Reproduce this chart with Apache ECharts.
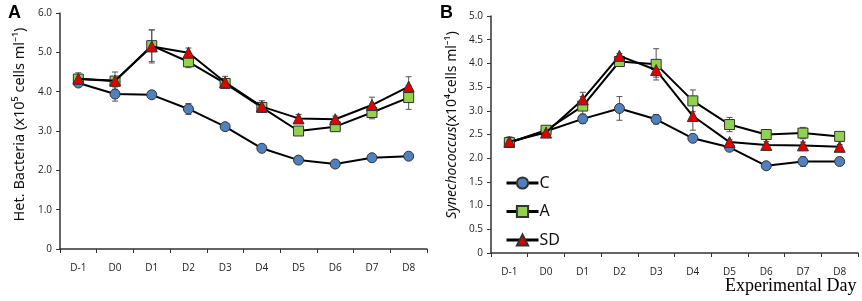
<!DOCTYPE html>
<html>
<head>
<meta charset="utf-8">
<script src="https://cdn.jsdelivr.net/npm/echarts@6/dist/echarts.min.js"></script>
<style>
  html, body { margin: 0; padding: 0; background: #fff; }
  #chart { width: 862px; height: 301px; }
</style>
</head>
<body>
<div id="chart"></div>
<script>
const days = ["D-1", "D0", "D1", "D2", "D3", "D4", "D5", "D6", "D7", "D8"];

// Panel A: heterotrophic bacteria (x10^5 cells/ml)
const bactC = [4.22, 3.94, 3.92, 3.56, 3.11, 2.56, 2.26, 2.16, 2.32, 2.36];
const bactA = [4.32, 4.27, 5.17, 4.76, 4.21, 3.6, 3.0, 3.11, 3.47, 3.85];
const bactSD = [4.33, 4.28, 5.15, 4.99, 4.24, 3.62, 3.32, 3.3, 3.66, 4.13];
const bactErrC = [0.06, 0.18, 0.04, 0.14, 0.04, 0.04, 0.04, 0.04, 0.04, 0.04];
const bactErrA = [0.12, 0.1, 0.4, 0.15, 0.12, 0.12, 0.08, 0.12, 0.16, 0.3];
const bactErrSD = [0.15, 0.22, 0.42, 0.12, 0.15, 0.15, 0.1, 0.08, 0.2, 0.25];

// Panel B: Synechococcus (x10^4 cells/ml)
const synC = [2.33, 2.57, 2.83, 3.05, 2.82, 2.42, 2.23, 1.84, 1.93, 1.93];
const synA = [2.33, 2.59, 3.1, 4.04, 3.98, 3.21, 2.71, 2.5, 2.53, 2.46];
const synSD = [2.35, 2.54, 3.24, 4.16, 3.86, 2.89, 2.34, 2.28, 2.27, 2.24];
const synErrC = [0.1, 0.05, 0.1, 0.25, 0.1, 0.05, 0.07, 0.05, 0.1, 0.05];
const synErrA = [0.1, 0.05, 0.2, 0.05, 0.33, 0.23, 0.15, 0.1, 0.12, 0.05];
const synErrSD = [0.1, 0.05, 0.15, 0.05, 0.15, 0.3, 0.05, 0.07, 0.07, 0.05];

const chart = echarts.init(document.getElementById("chart"), null, { renderer: "canvas" });

const labelFont = "Open Sans";
const axisColor = "#333333";

const xAxisBase = (gridIndex) => ({
  type: "category",
  gridIndex,
  data: days,
  boundaryGap: true,
  axisLine: { lineStyle: { color: axisColor, width: 1.5 } },
  axisTick: { show: true, length: 4, lineStyle: { color: axisColor } },
  axisLabel: { color: "#222", fontFamily: labelFont, fontSize: 10, margin: 14 },
});

const markerStyles = {
  C: { symbol: "circle", color: "#4F81BD" },
  A: { symbol: "rect", color: "#92D050" },
  SD: { symbol: "triangle", color: "#E00000" },
};

function lineSeries(name, data, idx) {
  const m = markerStyles[name];
  return {
    name,
    type: "line",
    xAxisIndex: idx,
    yAxisIndex: idx,
    data,
    symbol: m.symbol,
    symbolSize: name === "SD" ? 11 : 10,
    showSymbol: true,
    lineStyle: { color: "#000", width: 2 },
    itemStyle: { color: m.color, borderColor: "#333", borderWidth: 1 },
    z: name === "C" ? 3 : name === "A" ? 4 : 5,
    animation: false,
    emphasis: { disabled: true },
  };
}

function errorSeries(values, errs, idx) {
  return {
    type: "custom",
    xAxisIndex: idx,
    yAxisIndex: idx,
    data: values.map((v, i) => [i, v - errs[i], v + errs[i]]),
    renderItem: (params, api) => {
      const lo = api.coord([api.value(0), api.value(1)]);
      const hi = api.coord([api.value(0), api.value(2)]);
      const w = 3;
      const style = { stroke: "#555", lineWidth: 1 };
      return {
        type: "group",
        children: [
          { type: "line", shape: { x1: hi[0], y1: hi[1], x2: lo[0], y2: lo[1] }, style },
          { type: "line", shape: { x1: hi[0] - w, y1: hi[1], x2: hi[0] + w, y2: hi[1] }, style },
          { type: "line", shape: { x1: lo[0] - w, y1: lo[1], x2: lo[0] + w, y2: lo[1] }, style },
        ],
      };
    },
    z: 2,
    silent: true,
    animation: false,
  };
}

const yLabel = {
  color: "#222",
  fontFamily: labelFont,
  fontSize: 10,
  margin: 8,
  formatter: (v) => (v === 0 ? "0" : v.toFixed(1)),
};

const option = {
  backgroundColor: "#fff",
  animation: false,
  grid: [
    { left: 60, top: 13, width: 367, height: 236 },
    { left: 491, top: 16, width: 367, height: 237 },
  ],
  xAxis: [xAxisBase(0), xAxisBase(1)],
  yAxis: [
    {
      type: "value",
      gridIndex: 0,
      min: 0,
      max: 6,
      interval: 1,
      splitLine: { show: false },
      axisLine: { show: true, lineStyle: { color: axisColor, width: 1.5 } },
      axisTick: { show: true, length: 4, lineStyle: { color: axisColor } },
      axisLabel: yLabel,
      name: "Het. Bacteria (x10⁵ cells ml⁻¹)",
      nameLocation: "middle",
      nameGap: 33,
      nameTextStyle: { color: "#111", fontFamily: "Noto Sans", fontSize: 14.5, padding: [0, 0, 0, 13] },
    },
    {
      type: "value",
      gridIndex: 1,
      min: 0,
      max: 5,
      interval: 0.5,
      splitLine: { show: false },
      axisLine: { show: true, lineStyle: { color: axisColor, width: 1.5 } },
      axisTick: { show: true, length: 4, lineStyle: { color: axisColor } },
      axisLabel: yLabel,
      name: "{i|Synechococcus}(x10⁴cells ml⁻¹)",
      nameLocation: "middle",
      nameGap: 32,
      nameTextStyle: {
        color: "#111",
        fontFamily: "Noto Sans",
        fontSize: 14,
        padding: [0, 0, 0, 19],
        rich: { i: { fontStyle: "italic", fontFamily: "Noto Sans", fontSize: 14, color: "#111" } },
      },
    },
  ],
  legend: {
    data: ["C", "A", "SD"],
    orient: "vertical",
    left: 500,
    top: 170,
    itemWidth: 32,
    itemHeight: 14,
    itemGap: 12.5,
    lineStyle: { width: 3, color: "#000" },
    textStyle: { fontFamily: "Noto Sans", fontSize: 16, color: "#111", padding: [0, 0, 0, -4] },
    selectedMode: false,
  },
  graphic: [
    { type: "text", left: 8, top: 4, style: { text: "A", font: "bold 18px Arial", fill: "#000" } },
    { type: "text", left: 440, top: 4, style: { text: "B", font: "bold 18px Arial", fill: "#000" } },
    {
      type: "text",
      left: 725,
      top: 277,
      style: { text: "Experimental Day", font: "18px 'Liberation Serif'", fill: "#000" },
    },
  ],
  series: [
    errorSeries(bactC, bactErrC, 0),
    errorSeries(bactA, bactErrA, 0),
    errorSeries(bactSD, bactErrSD, 0),
    lineSeries("C", bactC, 0),
    lineSeries("A", bactA, 0),
    lineSeries("SD", bactSD, 0),
    errorSeries(synC, synErrC, 1),
    errorSeries(synA, synErrA, 1),
    errorSeries(synSD, synErrSD, 1),
    lineSeries("C", synC, 1),
    lineSeries("A", synA, 1),
    lineSeries("SD", synSD, 1),
  ],
};

chart.setOption(option);
</script>
</body>
</html>
